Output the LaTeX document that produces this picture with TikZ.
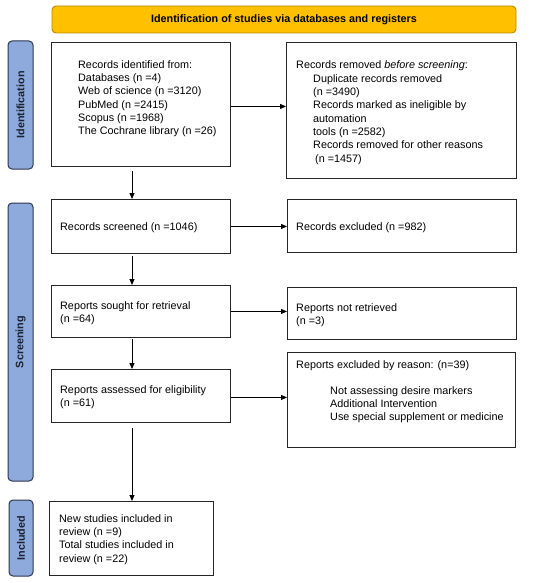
\documentclass[tikz,border=0pt]{standalone}
\usepackage{fontspec}
\setmainfont{Liberation Sans}
\usetikzlibrary{arrows.meta,calc}
\definecolor{bannerfill}{HTML}{FFC000}
\definecolor{bannerdraw}{HTML}{B88A00}
\definecolor{sidefill}{HTML}{8EA9DB}
\definecolor{sidedraw}{HTML}{2B3550}
\definecolor{sidetext}{HTML}{1A2233}
\tikzset{
  box/.style={draw=black!85, line width=0.9pt, fill=white, inner sep=0pt, anchor=north west},
  txt/.style={anchor=north west, inner sep=0pt, align=left, font=\fontsize{10.8}{13.3}\selectfont},
  banner/.style={draw=bannerdraw, fill=bannerfill, line width=0.9pt, rounded corners=4pt, inner sep=0pt, font=\fontsize{10.8}{13.3}\selectfont\bfseries},
  side/.style={draw=sidedraw, fill=sidefill, line width=1pt, rounded corners=4pt, inner sep=0pt, rotate=90, text=sidetext, font=\fontsize{10.8}{13.3}\selectfont\bfseries},
  arr/.style={-{Triangle[length=6pt,width=5pt]}, line width=0.9pt, black}
}
\begin{document}
\begin{tikzpicture}[x=1pt,y=-1pt]
\useasboundingbox (0,0) rectangle (550,583);
% banner
\node[banner, minimum width=464, minimum height=27] (ban) at (284,19.5) {Identification of studies via databases and registers};
% side labels
\node[side, minimum width=128, minimum height=25] (sid) at (20.5,105) {Identification};
\node[side, minimum width=278, minimum height=25] (sscr) at (20.5,342) {Screening};
\node[side, minimum width=76, minimum height=24] (sinc) at (21,538) {Included};
% boxes
\node[box, minimum width=179, minimum height=124] (b1) at (51,42) {};
\node[box, minimum width=230, minimum height=136] (b2) at (286,42) {};
\node[box, minimum width=179, minimum height=54] (scr) at (51,199) {};
\node[box, minimum width=229, minimum height=53] (exc) at (287,199) {};
\node[box, minimum width=179, minimum height=52] (sou) at (51,285) {};
\node[box, minimum width=229, minimum height=52] (nre) at (287,287) {};
\node[box, minimum width=179, minimum height=53] (ass) at (51,369) {};
\node[box, minimum width=228, minimum height=95] (rea) at (287,352) {};
\node[box, minimum width=164, minimum height=74] (inc) at (49,501) {};
% texts
\node[txt] (t1) at (78,60.2) {Records identified from:\\Databases (n =4)\\Web of science (n =3120)\\PubMed (n =2415)\\Scopus (n =1968)\\The Cochrane library (n =26)};
\node[txt] (t2a) at (296,60.2) {Records removed \textit{before screening}:};
\node[txt] (t2b) at (313,74.2) {Duplicate records removed\\(n =3490)\\Records marked as ineligible by\\automation\\tools (n =2582)\\Records removed for other reasons\\\hspace{2pt}(n =1457)};
\node[txt] (t3) at (60,222.2) {Records screened (n =1046)};
\node[txt] (t4) at (296,222.2) {Records excluded (n =982)};
\node[txt] (t5) at (60,301.2) {Reports sought for retrieval\\(n =64)};
\node[txt] (t6) at (296,303.2) {Reports not retrieved\\(n =3)};
\node[txt] (t7) at (60,385.2) {Reports assessed for eligibility\\(n =61)};
\node[txt] (t8a) at (296,360.2) {Reports excluded by reason: (n=39)};
\node[txt] (t8b) at (330,386.2) {Not assessing desire markers\\Additional Intervention\\Use special supplement or medicine};
\node[txt] (t9) at (59,514.2) {New studies included in\\review (n =9)\\Total studies included in\\review (n =22)};
% arrows
\coordinate (ax) at (132,0);
\draw[arr] ([yshift=-2pt]b1.east) -- ([yshift=-2pt]b1.east -| b2.west);
\draw[arr] (scr.east) -- (scr.east -| exc.west);
\draw[arr] (sou.east) -- (sou.east -| nre.west);
\draw[arr] ([yshift=-1.5pt]ass.east) -- ([yshift=-1.5pt]ass.east -| rea.west);
\draw[arr, shorten <=4pt] (ax |- b1.south) -- (ax |- scr.north);
\draw[arr, shorten <=2pt] (ax |- scr.south) -- (ax |- sou.north);
\draw[arr, shorten <=1pt] (ax |- sou.south) -- (ax |- ass.north);
\draw[arr, shorten <=5pt] (ax |- ass.south) -- (ax |- inc.north);
\end{tikzpicture}
\end{document}
